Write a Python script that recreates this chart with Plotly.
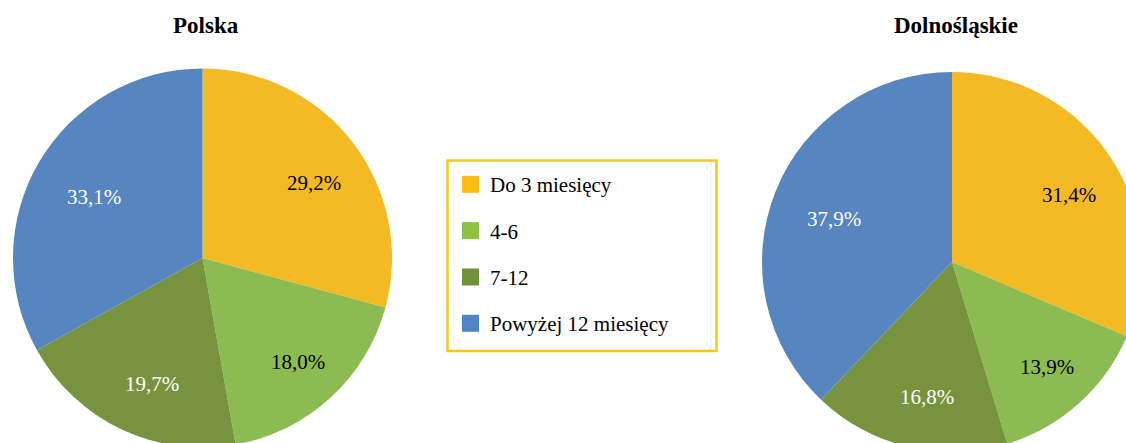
import math
import plotly.graph_objects as go

categories = ["Do 3 miesięcy", "4-6", "7-12", "Powyżej 12 miesięcy"]
polska = [29.2, 18.0, 19.7, 33.1]
dolnoslaskie = [31.4, 13.9, 16.8, 37.9]
titles = ["Polska", "Dolnośląskie"]

colors = ["#F3BA24", "#8CBB51", "#78933D", "#5685BF"]
legend_colors = ["#FBBC14", "#8DC043", "#71913A", "#4F84C4"]
text_colors = ["#000000", "#000000", "#FFFFFF", "#FFFFFF"]
FONT = "Liberation Serif, Times New Roman, serif"

W, H = 1145, 455


def px(x):
    return x / W


def py(y):
    return (H - y) / H


def pct(v):
    return f"{v:.1f}%".replace(".", ",")


pies = [(polska, 202.5, 258, 189.5), (dolnoslaskie, 952, 262, 190)]

fig = go.Figure()
annotations = []
for vals, cx, cy, r in pies:
    fig.add_trace(go.Pie(
        labels=categories, values=vals, sort=False, direction="clockwise",
        rotation=0,
        domain=dict(x=[px(cx - r), px(cx + r)], y=[py(cy + r), py(cy - r)]),
        textinfo="none",
        marker=dict(colors=colors, line=dict(width=0)),
        showlegend=False, hoverinfo="label+percent",
    ))
    # data labels along each slice bisector (Excel-like placement)
    total = sum(vals)
    cum = 0.0
    for v, tc in zip(vals, text_colors):
        mid = (cum + v / 2) / total * 2 * math.pi
        cum += v
        lx = cx + 0.7 * r * math.sin(mid) + 6
        ly = cy - 0.7 * r * math.cos(mid) + 6
        annotations.append(dict(
            text=pct(v), x=px(lx), y=py(ly), xref="paper", yref="paper",
            xanchor="center", yanchor="middle", showarrow=False,
            font=dict(family=FONT, size=21, color=tc),
        ))

for t, cx in zip(titles, [205.5, 956]):
    annotations.append(dict(
        text=f"<b>{t}</b>", x=px(cx), y=py(25), xref="paper", yref="paper",
        xanchor="center", yanchor="middle", showarrow=False,
        font=dict(family=FONT, size=23, color="#000000"),
    ))

shapes = [dict(type="rect", xref="paper", yref="paper",
               x0=px(447.5), x1=px(716.5), y0=py(351), y1=py(160.5),
               line=dict(color="#F7C71C", width=2.5), fillcolor="rgba(0,0,0,0)")]
item_y = [184.3, 230.6, 277.0, 323.3]
for cat, col, yy in zip(categories, legend_colors, item_y):
    shapes.append(dict(type="rect", xref="paper", yref="paper",
                       x0=px(462), x1=px(479), y0=py(yy + 8.5), y1=py(yy - 8.5),
                       line=dict(width=0), fillcolor=col))
    annotations.append(dict(
        text=cat, x=px(487.5), y=py(yy + 1), xref="paper", yref="paper",
        xanchor="left", yanchor="middle", showarrow=False,
        font=dict(family=FONT, size=21, color="#000000"),
    ))

fig.update_layout(
    width=W, height=H, margin=dict(l=0, r=0, t=0, b=0),
    paper_bgcolor="#FFFFFF", plot_bgcolor="#FFFFFF",
    annotations=annotations, shapes=shapes, showlegend=False,
)

post = ("document.body.style.margin='0';"
        "document.body.style.overflow='hidden';"
        "document.documentElement.style.overflow='hidden';")
fig.write_html("out.html", post_script=post, config={"displayModeBar": False})
